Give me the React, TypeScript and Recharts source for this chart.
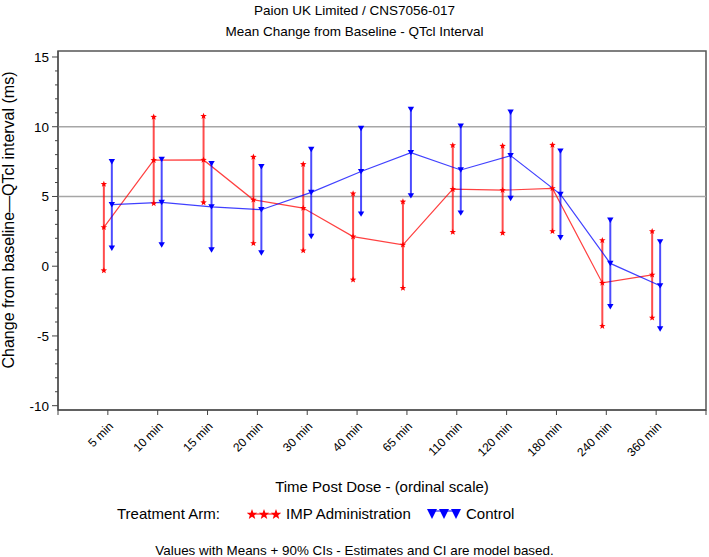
import { ComposedChart, Line, XAxis, YAxis, ErrorBar, ReferenceLine, ReferenceArea } from "recharts"

const TIME_LABELS = [
  "5 min", "10 min", "15 min", "20 min", "30 min", "40 min",
  "65 min", "110 min", "120 min", "180 min", "240 min", "360 min",
]

// IMP Administration (red stars)
const IMP_MEAN = [2.79, 7.6, 7.62, 4.76, 4.17, 2.12, 1.53, 5.52, 5.45, 5.58, -1.2, -0.62]
const IMP_LOW = [-0.31, 4.5, 4.57, 1.64, 1.12, -0.97, -1.57, 2.45, 2.38, 2.5, -4.3, -3.7]
const IMP_HIGH = [5.89, 10.7, 10.76, 7.83, 7.31, 5.21, 4.62, 8.67, 8.62, 8.69, 1.85, 2.5]

// Control (blue triangles)
const CTRL_MEAN = [4.41, 4.57, 4.26, 4.05, 5.29, 6.79, 8.14, 6.9, 7.93, 5.15, 0.2, -1.4]
const CTRL_LOW = [1.29, 1.53, 1.17, 0.95, 2.14, 3.74, 5.05, 3.81, 4.86, 2.05, -2.9, -4.5]
const CTRL_HIGH = [7.5, 7.67, 7.36, 7.14, 8.38, 9.88, 11.24, 10.05, 11.05, 8.26, 3.3, 1.75]

const X_TICKS = [-1, 0, 1, 2, 3, 4, 5, 6, 7, 8, 9, 10, 11, 12]
const Y_TICKS = [-10, -9, -8, -7, -6, -5, -4, -3, -2, -1, 0, 1, 2, 3, 4, 5, 6, 7, 8, 9, 10, 11, 12, 13, 14, 15]
const Y_DOMAIN: [number, number] = [-10.31, 15.43]
const X_DOMAIN: [number, number] = [-1, 12]
const GRID_LINES = [5, 10]

const RED = "#ff0000"
const BLUE = "#0000ff"
const FONT = '"Liberation Sans", Arial, sans-serif'
const OFFSET = 0.08 // side-by-side dodge of the two arms

const chartData = TIME_LABELS.flatMap((_, i) => [
  {
    x: i - OFFSET,
    imp: IMP_MEAN[i],
    impErr: [IMP_MEAN[i] - IMP_LOW[i], IMP_HIGH[i] - IMP_MEAN[i]],
    impLow: IMP_LOW[i],
    impHigh: IMP_HIGH[i],
  },
  {
    x: i + OFFSET,
    ctrl: CTRL_MEAN[i],
    ctrlErr: [CTRL_MEAN[i] - CTRL_LOW[i], CTRL_HIGH[i] - CTRL_MEAN[i]],
    ctrlLow: CTRL_LOW[i],
    ctrlHigh: CTRL_HIGH[i],
  },
])

function starPath(cx: number, cy: number, r: number) {
  const pts: string[] = []
  for (let k = 0; k < 10; k++) {
    const rad = k % 2 === 0 ? r : r * 0.42
    const a = -Math.PI / 2 + (k * Math.PI) / 5
    pts.push(`${cx + rad * Math.cos(a)},${cy + rad * Math.sin(a)}`)
  }
  return `M${pts.join("L")}Z`
}

const renderStar = (p: any) => {
  if (p.cx == null || p.cy == null || p.value == null) return <g key={`s-${p.index}`} />
  return <path key={`s-${p.index}`} d={starPath(p.cx, p.cy, 3.4)} fill={RED} />
}

const renderTri = (p: any) => {
  if (p.cx == null || p.cy == null || p.value == null) return <g key={`t-${p.index}`} />
  const { cx, cy } = p
  return (
    <path key={`t-${p.index}`} d={`M${cx - 3.2},${cy - 2.6}L${cx + 3.2},${cy - 2.6}L${cx},${cy + 2.8}Z`} fill={BLUE} />
  )
}

const XTick = (props: any) => {
  const { x, y, payload } = props
  const label = TIME_LABELS[payload.value] ?? ""
  return (
    <g transform={`translate(${x + 6},${y + 10})`}>
      <text textAnchor="end" transform="rotate(-45)" fontSize={12} fontFamily={FONT} fill="#000">
        {label}
      </text>
    </g>
  )
}

const YTick = (props: any) => {
  const { x, y, payload } = props
  const major = payload.value % 5 === 0
  return (
    <g>
      <line x1={x} x2={x - (major ? 6 : 3)} y1={y} y2={y} stroke="#444" />
      {major && (
        <text x={x - 9} y={y} dy="0.36em" textAnchor="end" fontSize={13.5} fontFamily={FONT} fill="#000">
          {payload.value}
        </text>
      )}
    </g>
  )
}

function LegendStars() {
  return (
    <svg width={34} height={12} style={{ verticalAlign: "middle" }}>
      <line x1={5} x2={29} y1={6} y2={6} stroke={RED} />
      {[5, 17, 29].map((cx) => (
        <path key={cx} d={starPath(cx, 6.5, 5.5)} fill={RED} />
      ))}
    </svg>
  )
}

function LegendTris() {
  return (
    <svg width={34} height={12} style={{ verticalAlign: "middle" }}>
      <line x1={5} x2={29} y1={3} y2={3} stroke={BLUE} />
      {[5, 17, 29].map((cx) => (
        <path key={cx} d={`M${cx - 5},1L${cx + 5},1L${cx},11Z`} fill={BLUE} />
      ))}
    </svg>
  )
}

export default function App() {
  return (
    <div style={{ position: "relative", width: 709, height: 557, fontFamily: FONT, color: "#000", background: "#fff" }}>
      <style>{"body{margin:0}"}</style>
      <div style={{ position: "absolute", top: 0, left: 0, width: 709, textAlign: "center", fontSize: 13.5, lineHeight: "21px" }}>
        <div>Paion UK Limited / CNS7056-017</div>
        <div>Mean Change from Baseline - QTcl Interval</div>
      </div>

      <ComposedChart width={709} height={557} data={chartData} margin={{ top: 51, right: 3, bottom: 0, left: 0 }}>
        <ReferenceArea x1={X_DOMAIN[0]} x2={X_DOMAIN[1]} y1={Y_DOMAIN[0]} y2={Y_DOMAIN[1]} fill="none" stroke="#555" strokeWidth={1.5} />
        {GRID_LINES.map((v) => (
          <ReferenceLine key={v} y={v} stroke="#a6a6a6" strokeWidth={1.5} />
        ))}
        <XAxis
          dataKey="x"
          type="number"
          domain={X_DOMAIN}
          allowDataOverflow
          ticks={X_TICKS}
          interval={0}
          tick={<XTick />}
          tickSize={5}
          stroke="#444"
          height={147}
        />
        <YAxis
          type="number"
          domain={Y_DOMAIN}
          allowDataOverflow
          ticks={Y_TICKS}
          interval={0}
          tick={<YTick />}
          tickLine={false}
          tickSize={0}
          tickMargin={0}
          stroke="#444"
          width={58}
        />
        <Line dataKey="imp" stroke={RED} strokeOpacity={0.75} strokeWidth={1.2} connectNulls dot={renderStar} activeDot={false} isAnimationActive={false}>
          <ErrorBar dataKey="impErr" direction="y" width={0} stroke={RED} strokeOpacity={0.7} strokeWidth={2} isAnimationActive={false} />
        </Line>
        <Line dataKey="impLow" stroke="none" dot={renderStar} activeDot={false} isAnimationActive={false} />
        <Line dataKey="impHigh" stroke="none" dot={renderStar} activeDot={false} isAnimationActive={false} />
        <Line dataKey="ctrl" stroke={BLUE} strokeOpacity={0.75} strokeWidth={1.2} connectNulls dot={renderTri} activeDot={false} isAnimationActive={false}>
          <ErrorBar dataKey="ctrlErr" direction="y" width={0} stroke={BLUE} strokeOpacity={0.7} strokeWidth={2} isAnimationActive={false} />
        </Line>
        <Line dataKey="ctrlLow" stroke="none" dot={renderTri} activeDot={false} isAnimationActive={false} />
        <Line dataKey="ctrlHigh" stroke="none" dot={renderTri} activeDot={false} isAnimationActive={false} />
      </ComposedChart>

      <div
        style={{
          position: "absolute",
          left: 9,
          top: 220,
          transform: "translate(-50%, -50%) rotate(-90deg)",
          whiteSpace: "nowrap",
          fontSize: 16,
        }}
      >
        Change from baseline—QTcl interval (ms)
      </div>

      <div style={{ position: "absolute", left: 58, width: 648, top: 477, textAlign: "center", fontSize: 15, lineHeight: "20px" }}>
        Time Post Dose - (ordinal scale)
      </div>

      <div style={{ position: "absolute", top: 504, left: 117, fontSize: 15, lineHeight: "20px", whiteSpace: "nowrap", display: "flex", alignItems: "center" }}>
        <span style={{ width: 130 }}>Treatment Arm:</span>
        <LegendStars />
        <span style={{ marginLeft: 5, width: 141 }}>IMP Administration</span>
        <LegendTris />
        <span style={{ marginLeft: 5 }}>Control</span>
      </div>

      <div style={{ position: "absolute", top: 542, left: 0, width: 709, textAlign: "center", fontSize: 13.4, lineHeight: "18px" }}>
        Values with Means + 90% CIs - Estimates and CI are model based.
      </div>
    </div>
  )
}
